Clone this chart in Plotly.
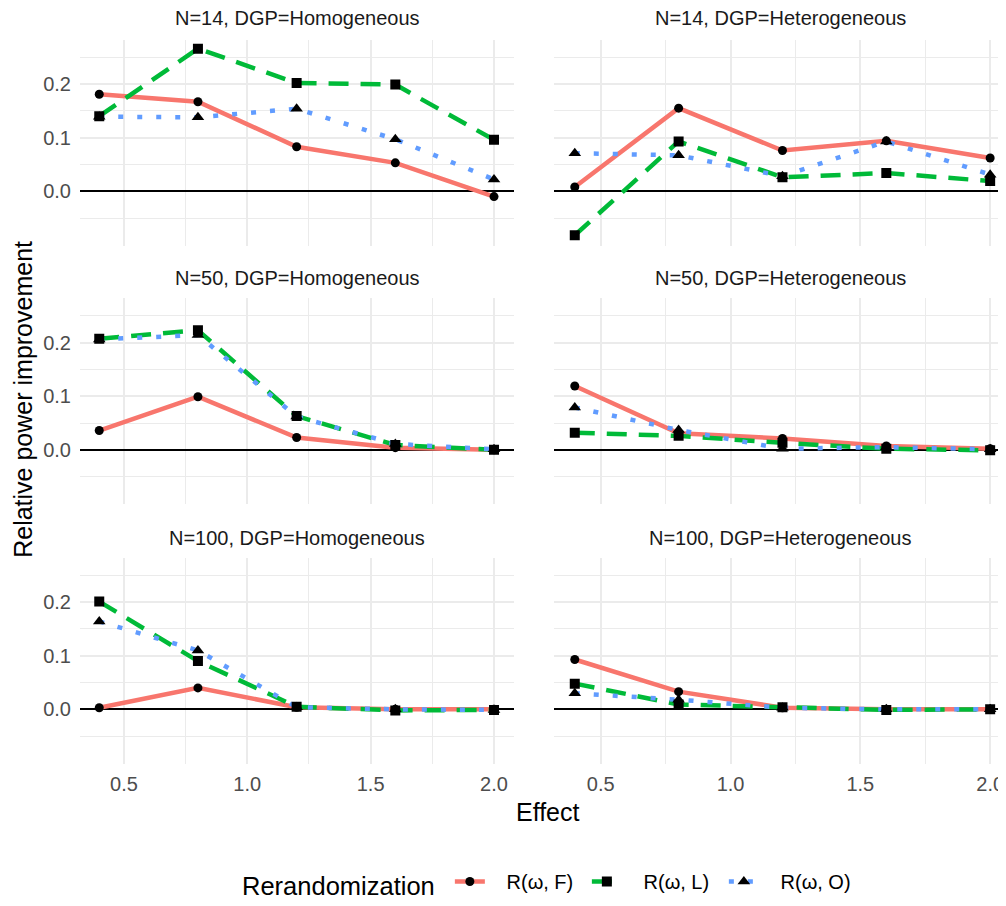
import plotly.graph_objects as go

# ---------------- data ----------------
effect = [0.4, 0.8, 1.2, 1.6, 2.0]
sample_sizes = [14, 50, 100]
dgps = ["Homogeneous", "Heterogeneous"]
series_names = ["R(ω, F)", "R(ω, L)", "R(ω, O)"]

# N = 14
n14_hom_F = [0.181, 0.167, 0.083, 0.053, -0.010]
n14_hom_L = [0.140, 0.266, 0.202, 0.199, 0.096]
n14_hom_O = [0.139, 0.138, 0.154, 0.097, 0.022]
n14_het_F = [0.008, 0.155, 0.076, 0.094, 0.062]
n14_het_L = [-0.082, 0.093, 0.026, 0.034, 0.019]
n14_het_O = [0.071, 0.067, 0.028, 0.093, 0.031]
# N = 50
n50_hom_F = [0.036, 0.099, 0.023, 0.004, 0.000]
n50_hom_L = [0.207, 0.223, 0.063, 0.009, 0.000]
n50_hom_O = [0.206, 0.214, 0.062, 0.011, 0.001]
n50_het_F = [0.119, 0.031, 0.021, 0.007, 0.002]
n50_het_L = [0.032, 0.026, 0.013, 0.002, -0.001]
n50_het_O = [0.079, 0.037, 0.002, 0.005, 0.001]
# N = 100
n100_hom_F = [0.003, 0.040, 0.004, 0.000, 0.000]
n100_hom_L = [0.201, 0.090, 0.005, -0.002, -0.001]
n100_hom_O = [0.164, 0.110, 0.004, 0.000, -0.001]
n100_het_F = [0.093, 0.033, 0.003, 0.000, 0.000]
n100_het_L = [0.048, 0.009, 0.004, -0.001, 0.000]
n100_het_O = [0.030, 0.018, 0.003, 0.000, 0.000]

x_tick_vals = [0.5, 1.0, 1.5, 2.0]
x_tick_text = ["0.5", "1.0", "1.5", "2.0"]
y_tick_vals = [0.0, 0.1, 0.2]
y_tick_text = ["0.0", "0.1", "0.2"]

panels = {
    (14, "Homogeneous"): [n14_hom_F, n14_hom_L, n14_hom_O],
    (14, "Heterogeneous"): [n14_het_F, n14_het_L, n14_het_O],
    (50, "Homogeneous"): [n50_hom_F, n50_hom_L, n50_hom_O],
    (50, "Heterogeneous"): [n50_het_F, n50_het_L, n50_het_O],
    (100, "Homogeneous"): [n100_hom_F, n100_hom_L, n100_hom_O],
    (100, "Heterogeneous"): [n100_het_F, n100_het_L, n100_het_O],
}

# ---------------- styling ----------------
# the page body has an 8px margin, so lay out in page pixels and subtract it
OFF = 8
W, H = 1006 - OFF, 906 - OFF
colors = ["#F8766D", "#00BA38", "#619CFF"]
dashes = ["solid", "20px,12px", "5px,14px"]
symbols = ["circle", "square", "triangle-up"]
msizes = [9, 10, 11]
LINE_W = 4.5
FONT = "Liberation Sans, Arial, sans-serif"
PAD = "\u00a0\u00a0\u00a0"

def px_x(p):
    return (p - OFF) / W

def px_y(p):
    return 1 - (p - OFF) / H

col_px = [(80, 514), (554, 1006)]
col_xrange = [[0.322, 2.081], [0.320, 2.061]]
row_px = [(40, 247), (300, 507), (561, 768)]
strip_px = [18, 280, 541]
Y_RANGE = [-0.1015, 0.2825]

fig = go.Figure()

# legend-only entries
for s in range(3):
    fig.add_trace(go.Scatter(
        x=[None], y=[None], mode="lines+markers", name=PAD + series_names[s],
        line=dict(color=colors[s], width=LINE_W, dash=dashes[s]),
        marker=dict(color="black", symbol=symbols[s], size=msizes[s]),
        legendgroup=series_names[s], showlegend=True,
    ))

layout = {}
annotations = []
idx = 0
for r, n in enumerate(sample_sizes):
    for c, dgp in enumerate(dgps):
        idx += 1
        xa = "x" if idx == 1 else f"x{idx}"
        ya = "y" if idx == 1 else f"y{idx}"
        xkey = "xaxis" if idx == 1 else f"xaxis{idx}"
        ykey = "yaxis" if idx == 1 else f"yaxis{idx}"
        x0, x1 = col_px[c]
        t, b = row_px[r]
        layout[xkey] = dict(
            domain=[px_x(x0), min(px_x(x1), 1.0)], range=col_xrange[c], anchor=ya,
            tickmode="array", tickvals=x_tick_vals, ticktext=x_tick_text,
            showticklabels=(r == 2), showgrid=True, gridcolor="#EBEBEB", gridwidth=1.6,
            minor=dict(tickmode="array", tickvals=[0.75, 1.25, 1.75], showgrid=True,
                       gridcolor="#EBEBEB", gridwidth=0.8),
            zeroline=False, showline=False, ticks="",
            tickfont=dict(size=20, color="#4D4D4D", family=FONT),
            ticklabelstandoff=6,
        )
        layout[ykey] = dict(
            domain=[px_y(b), px_y(t)], range=Y_RANGE, anchor=xa,
            tickmode="array", tickvals=y_tick_vals, ticktext=y_tick_text,
            showticklabels=(c == 0), showgrid=True, gridcolor="#EBEBEB", gridwidth=1.6,
            minor=dict(tickmode="array", tickvals=[-0.05, 0.05, 0.15, 0.25], showgrid=True,
                       gridcolor="#EBEBEB", gridwidth=0.8),
            zeroline=True, zerolinecolor="black", zerolinewidth=2,
            showline=False, ticks="",
            tickfont=dict(size=20, color="#4D4D4D", family=FONT),
            ticklabelstandoff=8,
        )
        annotations.append(dict(
            text=f"N={n}, DGP={dgp}", x=px_x((x0 + x1) / 2), y=px_y(strip_px[r]),
            xref="paper", yref="paper", xanchor="center", yanchor="middle",
            showarrow=False, font=dict(size=20, color="#1A1A1A", family=FONT),
        ))
        vals = panels[(n, dgp)]
        # lines first (like ggplot geom_line), then points
        for s in range(3):
            fig.add_trace(go.Scatter(
                x=effect, y=vals[s], mode="lines", xaxis=xa, yaxis=ya,
                line=dict(color=colors[s], width=LINE_W, dash=dashes[s]),
                legendgroup=series_names[s], showlegend=False, hoverinfo="skip",
            ))
        for s in range(3):
            fig.add_trace(go.Scatter(
                x=effect, y=vals[s], mode="markers", xaxis=xa, yaxis=ya,
                marker=dict(color="black", symbol=symbols[s], size=msizes[s], line=dict(width=0)),
                legendgroup=series_names[s], showlegend=False, name=series_names[s],
            ))

annotations.append(dict(
    text="Effect", x=px_x(548), y=px_y(817), xref="paper", yref="paper",
    xanchor="center", yanchor="middle", showarrow=False,
    font=dict(size=25, color="black", family=FONT),
))
annotations.append(dict(
    text="Relative power improvement", x=px_x(23), y=px_y(402), xref="paper", yref="paper",
    xanchor="center", yanchor="middle", showarrow=False, textangle=-90,
    font=dict(size=25, color="black", family=FONT),
))

fig.update_layout(
    width=W, height=H,
    margin=dict(l=0, r=0, t=0, b=0),
    paper_bgcolor="white", plot_bgcolor="white",
    font=dict(family=FONT),
    annotations=annotations,
    legend=dict(
        orientation="h", x=px_x(240), xanchor="left", y=px_y(889), yanchor="middle",
        title=dict(text="Rerandomization ", side="left", font=dict(size=25.5, color="black")),
        font=dict(size=20, color="black"), itemwidth=30, entrywidth=92,
        bgcolor="rgba(0,0,0,0)",
    ),
    **layout,
)

fig.write_html("out.html")
